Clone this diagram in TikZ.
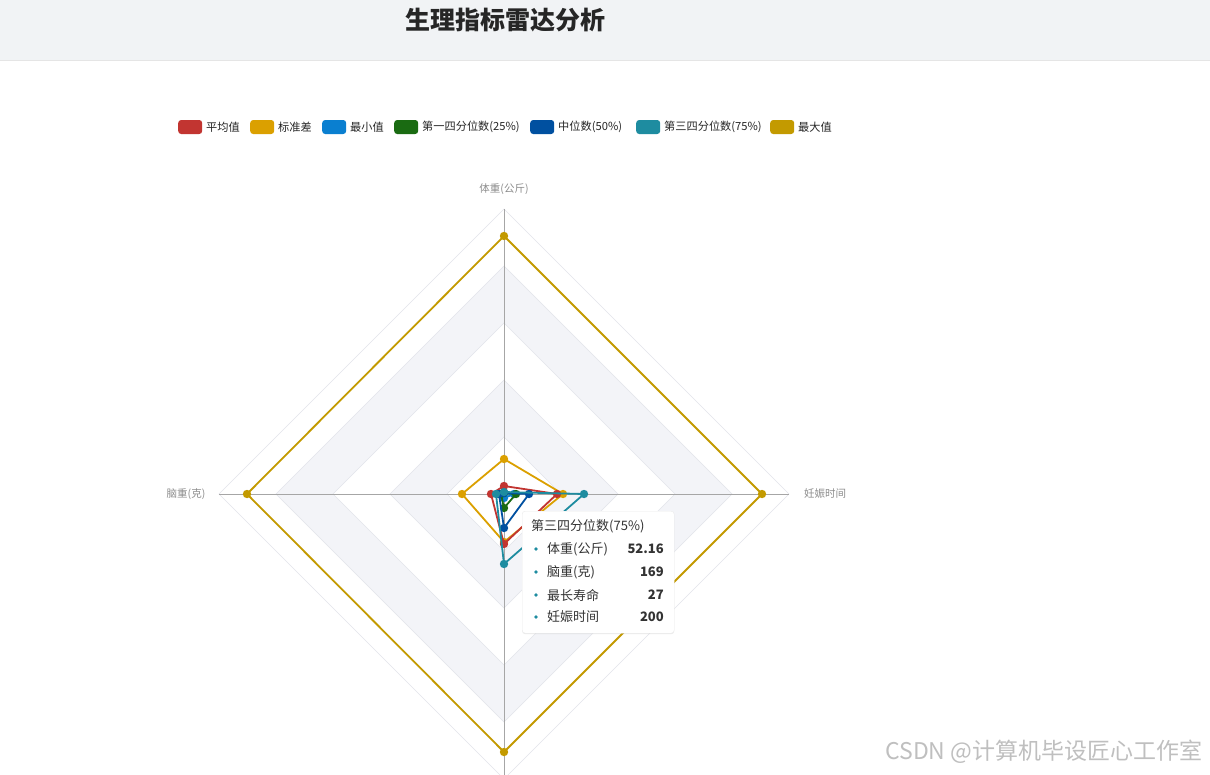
\documentclass[tikz,border=0pt]{standalone}
\usepackage{fontspec}
\setmainfont{Noto Sans CJK SC}
\usetikzlibrary{shadows}
\definecolor{cA}{HTML}{C23531}
\definecolor{cB}{HTML}{DBA000}
\definecolor{cC}{HTML}{0A7FD0}
\definecolor{cD}{HTML}{1A6B12}
\definecolor{cE}{HTML}{0050A0}
\definecolor{cF}{HTML}{1E8CA0}
\definecolor{cG}{HTML}{C39A00}
\definecolor{band}{HTML}{F3F4F8}
\definecolor{ring}{HTML}{E2E4EA}
\definecolor{head}{HTML}{F1F3F5}
\begin{document}
\begin{tikzpicture}[x=1pt,y=-1pt,
  lg/.style={rounded corners=3pt,minimum width=24pt,minimum height=14pt,inner sep=0pt},
  lgt/.style={anchor=west,font=\fontsize{11.2}{13}\selectfont,text=black!85,inner sep=0pt},
  axl/.style={font=\fontsize{10.5}{12}\selectfont,text=black!45},
  ser/.style={line width=1.8pt,line join=round},
  tt/.style={font=\fontsize{13}{15}\selectfont,text=black!80,inner sep=0pt}]
\useasboundingbox (0,0) rectangle (1210,774);
\begin{scope}
\clip (0,0) rectangle (1210,774);
\fill[white] (0,0) rectangle (1210,774);
\fill[head] (0,0) rectangle (1210,60);
\draw[black!10] (0,60) -- (1210,60);
\node[font=\bfseries\fontsize{25}{28}\selectfont,text=black!85] (title) at (505,20) {生理指标雷达分析};
% grid
\coordinate (O) at (504,494);
\foreach \r/\f in {285/white,228/band,171/white,114/band,57/white}{
  \fill[\f] (504,494-\r) -- (504+\r,494) -- (504,494+\r) -- (504-\r,494) -- cycle;
  \draw[ring] (504,494-\r) -- (504+\r,494) -- (504,494+\r) -- (504-\r,494) -- cycle;}
\coordinate (At) at (504,209); \coordinate (Ar) at (789,494);
\coordinate (Ab) at (504,779); \coordinate (Al) at (219,494);
\draw[black!35] (O) -- (At); \draw[black!35] (O) -- (Ar);
\draw[black!35] (O) -- (Ab); \draw[black!35] (O) -- (Al);
\node[axl] (lt) at (504,189) {体重(公斤)};
\node[axl] (lr) at (825,494) {妊娠时间};
\node[axl] (ll) at (186,494) {脑重(克)};
% series: top right bottom left radii
\foreach \c/\t/\rr/\b/\l in {cG/258/258/258/257,cB/35/59/48/42,cA/8/53/50/13,cC/1/10/4/6,cD/1/12/14/3,cE/1/25/34/5,cF/2/80/70/8}{
  \draw[ser,\c] (504,494-\t) -- (504+\rr,494) -- (504,494+\b) -- (504-\l,494) -- cycle;
  \foreach \p in {(504,494-\t),(504+\rr,494),(504,494+\b),(504-\l,494)}
    \fill[\c] \p circle (4.2pt);}
% tooltip
\node[draw=black!8,fill=white,rounded corners=3pt,drop shadow={opacity=0.15,shadow xshift=0pt,shadow yshift=-1pt},minimum width=152pt,minimum height=122pt,anchor=north west,inner sep=0pt] (tip) at (522,511) {};
\node[tt,anchor=west] (th) at (531,526) {第三四分位数(75\%)};
\foreach \y/\k/\v [count=\i] in {549/体重(公斤)/52.16,572/脑重(克)/169,595/最长寿命/27,617/妊娠时间/200}{
  \fill[cF] (536,\y) circle (1.8pt);
  \node[tt,anchor=west] (tk\i) at (547,\y) {\k};
  \node[tt,anchor=east,font=\bfseries\fontsize{13}{15}\selectfont] (tv\i) at (664,\y) {\v};}
% legend
\foreach \x/\c/\t [count=\i] in {178/cA/平均值,250/cB/标准差,322/cC/最小值,394/cD/第一四分位数(25\%),530/cE/中位数(50\%),636/cF/第三四分位数(75\%),770/cG/最大值}{
  \node[lg,fill=\c,anchor=west] (lgb\i) at (\x,127) {};
  \node[lgt] (lgt\i) at (\x+28,127) {\t};}
\node[font=\fontsize{23}{26}\selectfont,text=black!25,anchor=east] (wm) at (1206,752) {CSDN @计算机毕设匠心工作室};
\end{scope}
\end{tikzpicture}
\end{document}
